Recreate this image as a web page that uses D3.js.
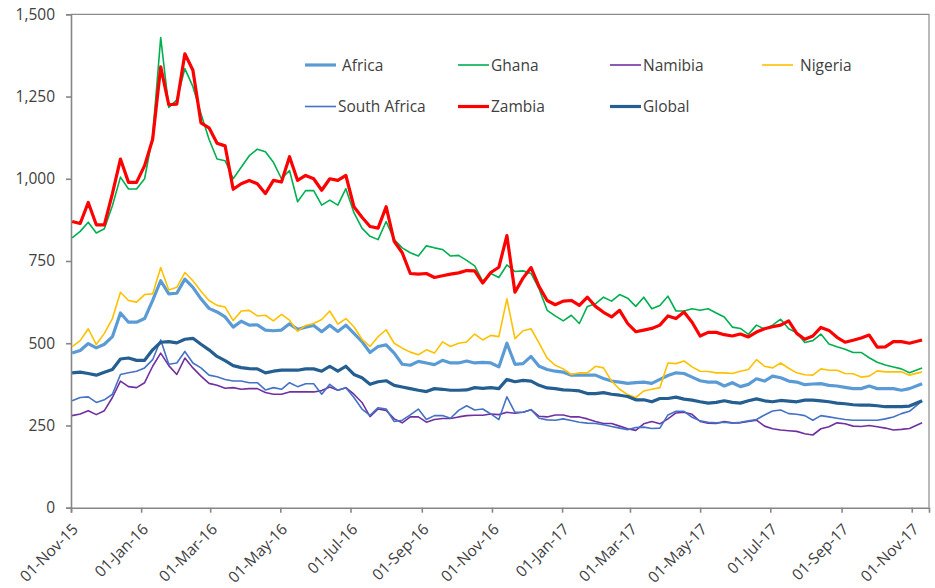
<!DOCTYPE html>
<html>
<head>
<meta charset="utf-8">
<script src="https://cdn.jsdelivr.net/npm/d3@7"></script>
<style>
  body { margin: 0; background: #fff; }
  text { font-family: "Open Sans", "Noto Sans", sans-serif; fill: #404040; }
</style>
</head>
<body>
<div id="chart"></div>
<script>
// weekly readings (Mondays from 02-Nov-15) plus the last day, 10-Nov-17
var firstWeek = new Date(2015, 10, 2);
var lastDay = new Date(2017, 10, 10);
var dates = d3.range(105).map(function(i) { return d3.timeDay.offset(firstWeek, 7 * i); }).concat([lastDay]);

var seriesNames = ["Africa", "Ghana", "Namibia", "Nigeria", "South Africa", "Zambia", "Global"];

var africa = [470, 478, 499, 486, 497, 520, 592, 564, 564, 575,
  630, 690, 650, 652, 695, 670, 635, 606, 595, 580,
  549, 567, 555, 556, 540, 538, 540, 559, 542, 549,
  554, 535, 555, 536, 555, 530, 505, 472, 490, 495,
  470, 436, 433, 445, 440, 435, 448, 440, 440, 446,
  440, 442, 440, 428, 500, 436, 438, 460, 430, 420,
  415, 412, 403, 403, 403, 403, 393, 385, 382, 378,
  380, 382, 378, 390, 402, 410, 408, 397, 386, 382,
  382, 370, 380, 368, 375, 392, 385, 400, 395, 385,
  382, 374, 376, 377, 372, 370, 366, 362, 362, 370,
  362, 362, 362, 357, 362, 377];

var ghana = [820, 840, 868, 835, 848, 918, 1005, 969, 969, 1000,
  1130, 1429, 1217, 1240, 1335, 1280, 1198, 1120, 1060, 1055,
  1000, 1035, 1070, 1090, 1082, 1050, 1000, 1025, 930, 964,
  964, 920, 935, 920, 970, 897, 850, 825, 815, 870,
  815, 790, 775, 765, 796, 790, 785, 765, 767, 752,
  735, 688, 712, 700, 738, 718, 720, 712, 665, 600,
  583, 568, 585, 560, 612, 620, 640, 628, 648, 637,
  612, 640, 605, 615, 643, 598, 598, 605, 600, 605,
  592, 580, 549, 545, 527, 555, 543, 555, 573, 544,
  532, 502, 508, 528, 498, 489, 482, 472, 472, 456,
  442, 434, 428, 422, 410, 425];

var namibia = [280, 285, 295, 283, 295, 335, 385, 368, 365, 380,
  430, 470, 432, 405, 455, 425, 400, 378, 372, 363,
  365, 360, 362, 362, 350, 345, 345, 352, 352, 352,
  352, 356, 367, 357, 365, 345, 320, 277, 300, 296,
  270, 258, 276, 276, 260, 268, 271, 271, 276, 280,
  281, 281, 285, 283, 290, 287, 290, 298, 278, 276,
  282, 282, 276, 276, 270, 262, 256, 256, 248, 240,
  235, 255, 262, 255, 270, 288, 290, 284, 262, 257,
  256, 262, 258, 258, 262, 266, 248, 240, 236, 234,
  232, 225, 221, 240, 246, 258, 255, 248, 247, 250,
  246, 242, 236, 238, 241, 258];

var nigeria = [490, 508, 544, 496, 530, 575, 655, 630, 625, 648,
  650, 730, 662, 670, 715, 690, 658, 630, 615, 610,
  569, 598, 600, 583, 585, 568, 588, 570, 536, 554,
  560, 572, 598, 558, 575, 550, 512, 490, 520, 541,
  500, 485, 473, 465, 480, 470, 504, 490, 500, 504,
  528, 510, 524, 520, 635, 514, 538, 544, 500, 455,
  433, 422, 405, 410, 410, 430, 425, 385, 360, 344,
  335, 355, 360, 365, 440, 438, 446, 428, 415, 414,
  410, 410, 408, 415, 420, 450, 430, 425, 440, 424,
  410, 404, 403, 422, 418, 418, 408, 407, 397, 400,
  416, 413, 413, 413, 403, 413];

var southAfrica = [325, 335, 337, 320, 328, 345, 405, 410, 415, 425,
  450, 510, 436, 440, 475, 440, 425, 403, 398, 390,
  385, 385, 380, 380, 358, 365, 360, 380, 368, 377,
  377, 345, 375, 357, 365, 335, 300, 281, 304, 300,
  262, 266, 282, 300, 268, 280, 280, 272, 296, 310,
  297, 300, 285, 268, 337, 290, 290, 298, 272, 267,
  266, 270, 265, 260, 257, 256, 252, 247, 242, 237,
  244, 245, 241, 242, 282, 293, 293, 275, 264, 260,
  258, 260, 257, 260, 264, 268, 282, 294, 297, 286,
  284, 280, 266, 280, 276, 272, 268, 266, 266, 266,
  266, 270, 276, 286, 293, 325];

var zambia = [870, 864, 928, 860, 860, 955, 1060, 989, 989, 1040,
  1120, 1340, 1225, 1227, 1380, 1330, 1170, 1155, 1108, 1100,
  968, 985, 995, 985, 955, 995, 990, 1067, 995, 1010,
  1000, 965, 1000, 995, 1010, 915, 883, 855, 850, 915,
  810, 775, 712, 710, 712, 700, 705, 710, 714, 721,
  720, 683, 715, 731, 827, 655, 698, 730, 672, 630,
  617, 628, 630, 615, 640, 612, 594, 580, 600, 560,
  535, 540, 545, 555, 583, 575, 595, 564, 522, 533,
  533, 526, 522, 528, 519, 534, 544, 550, 555, 568,
  530, 512, 522, 548, 539, 518, 503, 509, 516, 525,
  488, 489, 505, 505, 500, 510];

var global = [410, 412, 408, 403, 412, 420, 452, 455, 448, 448,
  480, 503, 505, 501, 512, 515, 497, 480, 460, 447,
  432, 426, 423, 422, 410, 415, 418, 418, 418, 422,
  422, 415, 430, 415, 430, 405, 395, 375, 383, 386,
  372, 367, 362, 357, 353, 362, 360, 357, 357, 358,
  365, 363, 365, 362, 390, 383, 387, 385, 372, 364,
  362, 358, 357, 355, 347, 347, 350, 345, 342, 338,
  328, 328, 322, 332, 332, 336, 330, 327, 322, 318,
  320, 325, 320, 318, 325, 331, 325, 322, 326, 324,
  322, 327, 327, 325, 322, 318, 316, 313, 312, 312,
  310, 307, 307, 307, 309, 325];

var yTicks = [0, 250, 500, 750, 1000, 1250, 1500];

var series = [
  {name: "Africa", values: africa, color: "#5b9bd5", width: 3.2},
  {name: "Ghana", values: ghana, color: "#00b050", width: 1.6},
  {name: "Namibia", values: namibia, color: "#7030a0", width: 1.6},
  {name: "Nigeria", values: nigeria, color: "#ffc000", width: 1.6},
  {name: "South Africa", values: southAfrica, color: "#4472c4", width: 1.6},
  {name: "Zambia", values: zambia, color: "#ff0000", width: 3.2},
  {name: "Global", values: global, color: "#255e91", width: 3.2}
];

var width = 935, height = 588;
var plot = {left: 71, right: 929, top: 14.3, bottom: 507.7};

var svg = d3.select("#chart").append("svg")
    .attr("width", width)
    .attr("height", height);

var x = d3.scaleTime()
    .domain([new Date(2015, 10, 1), new Date(2017, 10, 16)])
    .range([plot.left, plot.right]);

var y = d3.scaleLinear()
    .domain([0, 1500])
    .range([plot.bottom, plot.top]);

//frame top + right
svg.append("path")
    .attr("d", "M" + plot.left + "," + plot.top + "H" + plot.right + "V" + plot.bottom)
    .attr("fill", "none")
    .attr("stroke", "#8c8c8c")
    .attr("stroke-width", 1.2);

//y axis
var yAxis = svg.append("g")
    .attr("transform", "translate(" + plot.left + ",0)")
    .call(d3.axisLeft(y).tickValues(yTicks).tickSize(5).tickPadding(11).tickFormat(d3.format(",")));

//x axis
var xTicks = d3.timeMonth.range(new Date(2015, 10, 1), new Date(2017, 10, 2), 2);
var xAxis = svg.append("g")
    .attr("transform", "translate(0," + plot.bottom + ")")
    .call(d3.axisBottom(x).tickValues(xTicks).tickSize(5).tickFormat(d3.timeFormat("%d-%b-%y")));

[yAxis, xAxis].forEach(function(ax) {
  ax.select(".domain").attr("stroke", "#868686").attr("stroke-width", 1.6);
  ax.selectAll(".tick line").attr("stroke", "#868686").attr("stroke-width", 1.6);
  ax.selectAll("text")
    .style("font-family", '"Open Sans", "Noto Sans", sans-serif')
    .style("font-size", "15.5px")
    .attr("fill", "#404040");
});

xAxis.selectAll(".tick text")
    .attr("text-anchor", "end")
    .attr("dy", "0.35em")
    .attr("transform", "translate(-2,13) rotate(-45)");

//lines
var line = d3.line()
    .x(function(d, i) { return x(dates[i]); })
    .y(function(d) { return y(d); });

svg.append("g").selectAll("path")
  .data(series)
  .enter().append("path")
    .attr("d", function(d) { return line(d.values); })
    .attr("fill", "none")
    .attr("stroke", function(d) { return d.color; })
    .attr("stroke-width", function(d) { return d.width; })
    .attr("stroke-linejoin", "round");

//legend (two rows, Excel style)
var legendPos = {
  "Africa": [305, 65, 342], "Ghana": [458, 65, 491], "Namibia": [610, 65, 643], "Nigeria": [762, 65, 800],
  "South Africa": [305, 106.5, 338], "Zambia": [458, 106.5, 491], "Global": [610, 106.5, 643]
};

var legend = svg.append("g").selectAll("g")
  .data(series)
  .enter().append("g");

legend.append("line")
    .attr("x1", function(d) { return legendPos[d.name][0]; })
    .attr("x2", function(d) { return legendPos[d.name][0] + 31; })
    .attr("y1", function(d) { return legendPos[d.name][1]; })
    .attr("y2", function(d) { return legendPos[d.name][1]; })
    .attr("stroke", function(d) { return d.color; })
    .attr("stroke-width", function(d) { return d.width; });

legend.append("text")
    .attr("x", function(d) { return legendPos[d.name][2]; })
    .attr("y", function(d) { return legendPos[d.name][1]; })
    .attr("dy", "0.36em")
    .style("font-size", "15.5px")
    .text(function(d) { return d.name; });
</script>
</body>
</html>
